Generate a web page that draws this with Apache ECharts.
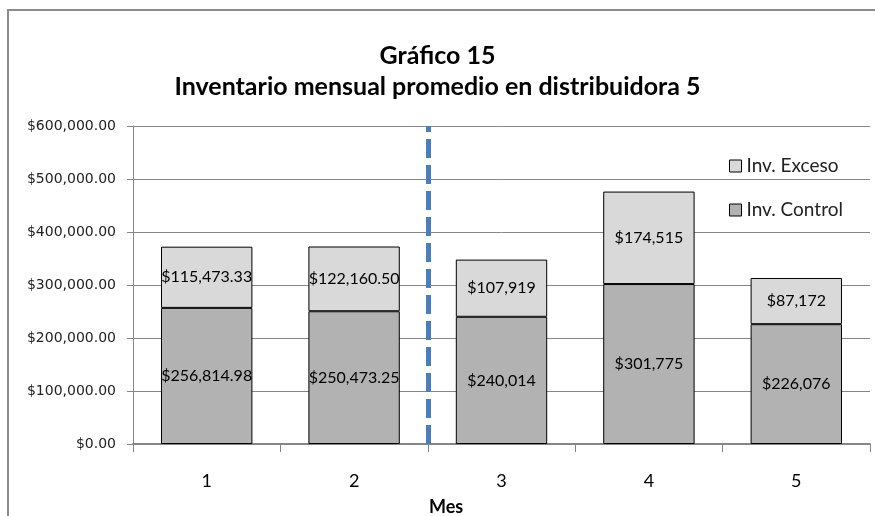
<!DOCTYPE html>
<html>
<head>
<meta charset="utf-8">
<script src="https://cdn.jsdelivr.net/npm/echarts@6/dist/echarts.min.js"></script>
<style>
html,body{margin:0;padding:0;background:#fff;}
#chart{width:875px;height:516px;position:absolute;left:0;top:0;}
#frame{position:absolute;left:7px;top:9px;width:880px;height:520px;border-left:2px solid #8c8c8c;border-top:2px solid #8c8c8c;pointer-events:none;}
</style>
</head>
<body>
<div id="chart"></div>
<div id="frame"></div>
<script>
const categories = ['1', '2', '3', '4', '5'];
const controlValues = [256814.98, 250473.25, 240014, 301775, 226076];
const excesoValues = [115473.33, 122160.50, 107919, 174515, 87172];
const controlLabels = ['$256,814.98', '$250,473.25', '$240,014', '$301,775', '$226,076'];
const excesoLabels = ['$115,473.33', '$122,160.50', '$107,919', '$174,515', '$87,172'];
const dividerPosition = 1.5; // boundary between month 2 (index 1) and month 3 (index 2)

const FONT = 'Lato, "Open Sans", sans-serif';
const chart = echarts.init(document.getElementById('chart'));
chart.setOption({
  animation: false,
  backgroundColor: '#fff',
  title: [
    {
      text: 'Gráfico 15\nInventario mensual promedio en distribuidora 5',
      left: 'center', top: 35,
      textStyle: { fontFamily: FONT, fontSize: 25, fontWeight: 'bold', color: '#000', lineHeight: 31 }
    },
    {
      text: 'Mes', left: 424, top: 493,
      textStyle: { fontFamily: FONT, fontSize: 18, fontWeight: 'bold', color: '#000' }
    }
  ],
  legend: {
    orient: 'vertical', left: 729, top: 155, padding: 0,
    itemWidth: 12, itemHeight: 12, itemGap: 22,
    icon: 'rect',
    data: ['Inv. Exceso', 'Inv. Control'],
    itemStyle: { borderColor: '#000', borderWidth: 1 },
    textStyle: { fontFamily: FONT, fontSize: 19, color: '#222', lineHeight: 22 }
  },
  grid: { left: 133, right: 5, top: 126, bottom: 72 },
  xAxis: [
    {
      type: 'category', data: categories,
      axisLine: { lineStyle: { color: '#868686', width: 2 } },
      axisTick: { show: true, length: 8, lineStyle: { color: '#868686' } },
      axisLabel: { fontFamily: FONT, fontSize: 18, color: '#000', margin: 28 }
    },
    { type: 'value', min: -0.5, max: 4.5, show: false }
  ],
  yAxis: {
    type: 'value', min: 0, max: 600000, interval: 100000,
    axisLine: { show: true, onZero: false, lineStyle: { color: '#868686' } },
    axisTick: { show: true, length: 6, lineStyle: { color: '#868686' } },
    splitLine: { lineStyle: { color: '#868686' } },
    axisLabel: {
      fontFamily: '"DejaVu Sans", sans-serif', fontSize: 14, color: '#222', margin: 17,
      formatter: v => '$' + v.toLocaleString('en-US', { minimumFractionDigits: 2, maximumFractionDigits: 2 })
    }
  },
  series: [
    {
      name: 'Inv. Control', type: 'bar', stack: 'inv', data: controlValues,
      barWidth: '62%',
      itemStyle: { color: '#b2b2b2', borderColor: '#000', borderWidth: 1 },
      label: { show: true, position: 'inside', fontFamily: FONT, fontSize: 16, color: '#000',
        formatter: p => controlLabels[p.dataIndex] }
    },
    {
      name: 'Inv. Exceso', type: 'bar', stack: 'inv', data: excesoValues,
      barWidth: '62%',
      itemStyle: { color: '#d9d9d9', borderColor: '#000', borderWidth: 1 },
      label: { show: true, position: 'inside', fontFamily: FONT, fontSize: 16, color: '#000',
        formatter: p => excesoLabels[p.dataIndex] }
    },
    {
      name: 'divider', type: 'line', xAxisIndex: 1, data: [],
      markLine: {
        silent: true, symbol: 'none', label: { show: false },
        lineStyle: { color: '#4a7ebb', width: 5, type: [19, 7] },
        data: [{ xAxis: dividerPosition }]
      }
    }
  ]
});
</script>
</body>
</html>
